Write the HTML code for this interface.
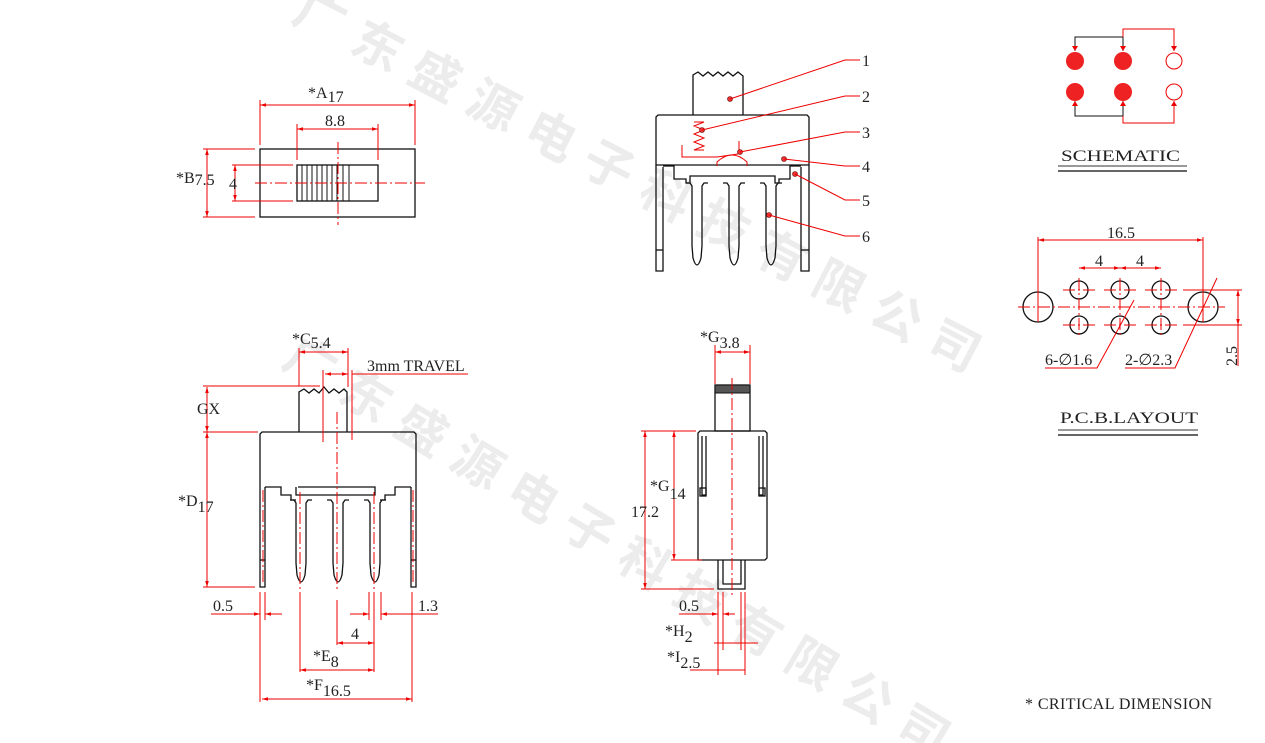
<!DOCTYPE html>
<html><head><meta charset="utf-8"><style>
body{margin:0;background:#fff;width:1265px;height:743px;overflow:hidden}
svg{display:block}
text{font-family:"Liberation Serif",serif;font-size:16px;fill:#222}
.r{stroke:#e00;stroke-width:1;fill:none}
.k{stroke:#111;stroke-width:1.3;fill:none}
.c{stroke:#e00;stroke-width:1;fill:none;stroke-dasharray:12 3 2 3}
.wm{font-family:"Noto Sans CJK SC",sans-serif;font-size:50px;fill:#ececec;font-weight:bold}
</style></head><body>
<svg width="1265" height="743" viewBox="0 0 1265 743" xmlns="http://www.w3.org/2000/svg">
<defs>
<marker id="a" viewBox="0 0 10 10" refX="10" refY="5" markerWidth="8" markerHeight="6" orient="auto-start-reverse"><path d="M0,2 L10,5 L0,8z" fill="#e00"/></marker>
</defs>
<!-- watermark -->
<g transform="translate(290,20) rotate(27.5)"><text class="wm" letter-spacing="15">广东盛源电子科技有限公司</text></g>
<g transform="translate(280,365) rotate(31)"><text class="wm" letter-spacing="15">广东盛源电子科技有限公司</text></g>

<!-- TOP LEFT VIEW -->
<rect x="260" y="149" width="155" height="68" class="k"/>
<rect x="297" y="165" width="81" height="36" class="k"/>
<g stroke="#111" stroke-width="1">
<line x1="302" y1="165" x2="302" y2="201"/><line x1="307" y1="165" x2="307" y2="201"/><line x1="312" y1="165" x2="312" y2="201"/><line x1="317" y1="165" x2="317" y2="201"/><line x1="322" y1="165" x2="322" y2="201"/><line x1="327" y1="165" x2="327" y2="201"/><line x1="332" y1="165" x2="332" y2="201"/><line x1="337" y1="165" x2="337" y2="201"/><line x1="343" y1="165" x2="343" y2="201"/><line x1="349" y1="165" x2="349" y2="201"/>
</g>
<line x1="255" y1="183" x2="425" y2="183" class="c"/>
<line x1="338" y1="142" x2="338" y2="225" class="c"/>
<line x1="260" y1="100" x2="260" y2="145" class="r"/><line x1="415" y1="100" x2="415" y2="145" class="r"/>
<line x1="260" y1="105" x2="415" y2="105" class="r" marker-start="url(#a)" marker-end="url(#a)"/>
<text x="308" y="98">*A<tspan dy="4">17</tspan></text>
<line x1="297" y1="124" x2="297" y2="160" class="r"/><line x1="378" y1="124" x2="378" y2="160" class="r"/>
<line x1="297" y1="129" x2="378" y2="129" class="r" marker-start="url(#a)" marker-end="url(#a)"/>
<text x="325" y="126">8.8</text>
<line x1="203" y1="149" x2="255" y2="149" class="r"/><line x1="203" y1="217" x2="255" y2="217" class="r"/>
<line x1="207" y1="149" x2="207" y2="217" class="r" marker-start="url(#a)" marker-end="url(#a)"/>
<text x="176" y="183">*B<tspan dy="2">7.5</tspan></text>
<line x1="232" y1="165" x2="293" y2="165" class="r"/><line x1="232" y1="201" x2="293" y2="201" class="r"/>
<line x1="235" y1="165" x2="235" y2="201" class="r" marker-start="url(#a)" marker-end="url(#a)"/>
<text x="229" y="189">4</text>

<!-- TOP MIDDLE VIEW -->
<path d="M693,115 V75 l5,-3 5,4 5,-4 5,4 5,-4 5,4 5,-4 5,4 5,-4 5,4 V115" class="k"/>
<path d="M656,165 V117 l2,-2 H807 l2,2 V165 Z" class="k"/>
<path d="M656,165 V271 H663 V167 M809,165 V271 H801 V167" class="k"/>
<line x1="656" y1="250" x2="663" y2="250" class="k"/><line x1="801" y1="250" x2="809" y2="250" class="k"/>
<path d="M663,166 H674 V179 H686 V183 H690 V176 H775 V183 H779 V179 H790 V166 H801" class="k"/>
<path d="M686,183 h4 l2,3 v60 l1,12 q4,14 8,0 l1,-12 v-60 l2,-3 h4" class="k"/>
<path d="M723,183 h4 l2,3 v60 l1,12 q4,14 8,0 l1,-12 v-60 l2,-3 h4" class="k"/>
<path d="M760,183 h4 l2,3 v60 l1,12 q4,14 8,0 l1,-12 v-60 l2,-3 h4" class="k"/>
<path d="M694,122 h10 l-10,4 10,4 -10,4 10,4 -10,4 10,4 -10,4 h10" class="r" stroke-width="1.4"/>
<path d="M682,145 v12 h35 l21,-3 M739,141 v13" class="r" stroke-width="1.3"/>
<path d="M717,166 v-4 q15,-14 30,0 v4" class="r" stroke-width="1.3"/>
<g fill="#e33" stroke="#600" stroke-width="0.6">
<circle cx="730" cy="99" r="2.5"/><circle cx="702" cy="130" r="2.5"/><circle cx="740" cy="152" r="2.5"/><circle cx="784" cy="159" r="2.5"/><circle cx="795" cy="174" r="2.5"/><circle cx="769" cy="215" r="2.5"/></g>
<path d="M730,99 L845,60 H860 M702,130 L845,96 H860 M740,152 L845,132 H860 M784,159 L845,166 H860 M795,174 L845,200 H860 M769,215 L845,236 H860" class="r"/>
<text x="862" y="66" font-size="19">1</text><text x="862" y="102" font-size="19">2</text><text x="862" y="138" font-size="19">3</text><text x="862" y="172" font-size="19">4</text><text x="862" y="206" font-size="19">5</text><text x="862" y="242" font-size="19">6</text>

<!-- BOTTOM LEFT VIEW -->
<path d="M299,432 V392 l5,-3 5,4 5,-4 5,4 5,-6 5,6 5,-4 5,4 5,-4 3,3 V432" class="k"/>
<path d="M260,487 V434 l2,-2 H414 l2,2 V487" class="k"/>
<path d="M260,487 V587 H265 V487 M416,487 V587 H411 V487" class="k"/>
<line x1="260" y1="560" x2="265" y2="560" class="k"/><line x1="411" y1="560" x2="416" y2="560" class="k"/>
<path d="M265,487 H281 V495 H291 V500 H296 M296,487 V495 H375 V487 H298 M380,500 H385 V495 H395 V487 H411" class="k"/>
<path d="M290,500 h4 l2,3 v60 l1,12 q4,14 8,0 l1,-12 v-60 l2,-3 h4" class="k"/>
<path d="M327,500 h4 l2,3 v60 l1,12 q4,14 8,0 l1,-12 v-60 l2,-3 h4" class="k"/>
<path d="M364,500 h4 l2,3 v60 l1,12 q4,14 8,0 l1,-12 v-60 l2,-3 h4" class="k"/>
<line x1="337" y1="412" x2="337" y2="590" class="c"/>
<line x1="300" y1="492" x2="300" y2="590" class="c"/><line x1="374" y1="492" x2="374" y2="590" class="c"/>
<line x1="263" y1="490" x2="263" y2="585" class="c" stroke="#fff"/>
<line x1="413" y1="490" x2="413" y2="585" class="c" stroke="#fff"/>
<line x1="299" y1="348" x2="299" y2="386" class="r"/><line x1="348" y1="348" x2="348" y2="387" class="r"/>
<line x1="299" y1="352" x2="348" y2="352" class="r" marker-start="url(#a)" marker-end="url(#a)"/>
<text x="292" y="344">*C<tspan dy="4">5.4</tspan></text>
<line x1="323" y1="370" x2="323" y2="442" class="r"/><line x1="352" y1="370" x2="352" y2="440" class="r"/>
<line x1="325" y1="374" x2="348" y2="374" class="r" marker-start="url(#a)" marker-end="url(#a)"/>
<line x1="352" y1="374" x2="468" y2="374" class="r"/>
<text x="367" y="371" font-size="15">3mm TRAVEL</text>
<line x1="203" y1="386" x2="320" y2="386" class="r"/><line x1="203" y1="432" x2="258" y2="432" class="r"/><line x1="203" y1="587" x2="255" y2="587" class="r"/>
<line x1="207" y1="387" x2="207" y2="432" class="r" marker-start="url(#a)" marker-end="url(#a)"/>
<line x1="207" y1="432" x2="207" y2="587" class="r" marker-start="url(#a)" marker-end="url(#a)"/>
<text x="197" y="414" font-size="13">GX</text>
<text x="178" y="506">*D<tspan dy="6">17</tspan></text>
<line x1="260" y1="592" x2="260" y2="702" class="r"/><line x1="265" y1="592" x2="265" y2="620" class="r"/>
<line x1="300" y1="592" x2="300" y2="672" class="r"/><line x1="337" y1="600" x2="337" y2="645" class="r"/>
<line x1="374" y1="592" x2="374" y2="672" class="r"/><line x1="369" y1="592" x2="369" y2="620" class="r"/><line x1="381" y1="592" x2="381" y2="620" class="r"/>
<line x1="412" y1="592" x2="412" y2="702" class="r"/>
<line x1="211" y1="614" x2="260" y2="614" class="r" marker-end="url(#a)"/><line x1="282" y1="614" x2="265" y2="614" class="r" marker-end="url(#a)"/>
<text x="213" y="611">0.5</text>
<line x1="350" y1="614" x2="369" y2="614" class="r" marker-end="url(#a)"/><line x1="438" y1="614" x2="381" y2="614" class="r" marker-end="url(#a)"/>
<text x="418" y="611">1.3</text>
<line x1="337" y1="643" x2="374" y2="643" class="r" marker-start="url(#a)" marker-end="url(#a)"/>
<text x="351" y="639">4</text>
<line x1="300" y1="670" x2="374" y2="670" class="r" marker-start="url(#a)" marker-end="url(#a)"/>
<text x="313" y="661">*E<tspan dy="6">8</tspan></text>
<line x1="262" y1="699" x2="412" y2="699" class="r" marker-start="url(#a)" marker-end="url(#a)"/>
<text x="306" y="690">*F<tspan dy="6">16.5</tspan></text>

<!-- BOTTOM MIDDLE VIEW -->
<rect x="715" y="385" width="35" height="46" class="k"/>
<rect x="715" y="385" width="35" height="8" fill="#555" stroke="#111"/>
<path d="M698,560 V433 l2,-2 H765 l2,2 V558 l-2,2 H700 Z" class="k"/>
<path d="M702,436 V495 H706 V436 M763,436 V495 H759 V436" class="k"/>
<rect x="700" y="488" width="6" height="8" class="k" stroke-width="1"/><rect x="759" y="488" width="6" height="8" class="k" stroke-width="1"/>
<path d="M718,560 V589 H745 V560 M723,560 V584 H741 V560" class="k"/>
<line x1="732" y1="378" x2="732" y2="597" class="c"/>
<line x1="715" y1="345" x2="715" y2="384" class="r"/><line x1="750" y1="345" x2="750" y2="384" class="r"/>
<line x1="715" y1="352" x2="750" y2="352" class="r" marker-start="url(#a)" marker-end="url(#a)"/>
<text x="700" y="342">*G<tspan dy="6">3.8</tspan></text>
<line x1="641" y1="431" x2="696" y2="431" class="r"/><line x1="671" y1="560" x2="702" y2="560" class="r"/><line x1="641" y1="589" x2="714" y2="589" class="r"/>
<line x1="645" y1="431" x2="645" y2="589" class="r" marker-start="url(#a)" marker-end="url(#a)"/>
<line x1="674" y1="431" x2="674" y2="560" class="r" marker-start="url(#a)" marker-end="url(#a)"/>
<text x="631" y="517">17.2</text>
<text x="650" y="491">*G<tspan dy="8">14</tspan></text>
<line x1="718" y1="592" x2="718" y2="675" class="r"/><line x1="723" y1="592" x2="723" y2="650" class="r"/>
<line x1="741" y1="592" x2="741" y2="650" class="r"/><line x1="745" y1="592" x2="745" y2="675" class="r"/>
<line x1="679" y1="614" x2="718" y2="614" class="r" marker-end="url(#a)"/><line x1="735" y1="614" x2="723" y2="614" class="r" marker-end="url(#a)"/>
<text x="679" y="611">0.5</text>
<line x1="714" y1="643" x2="758" y2="643" class="r"/>
<text x="665" y="636">*H<tspan dy="6">2</tspan></text>
<line x1="690" y1="670" x2="745" y2="670" class="r"/>
<text x="667" y="662">*I<tspan dy="6">2.5</tspan></text>

<!-- SCHEMATIC -->
<path d="M1075,51 V37 H1123 V51" stroke="#111" fill="none"/>
<path d="M1123,37 V29 H1174 V51" class="r"/>
<path d="M1075,101 V116 H1123 V101" stroke="#111" fill="none"/>
<path d="M1123,116 V123 H1174 V101" class="r"/>
<path d="M1072,46 l3,5 3,-5z M1120,46 l3,5 3,-5z M1171,46 l3,5 3,-5z M1072,106 l3,-5 3,5z M1120,106 l3,-5 3,5z M1171,106 l3,-5 3,5z" fill="#e00"/>
<g fill="#e22"><circle cx="1075" cy="61" r="9"/><circle cx="1123" cy="61" r="9"/><circle cx="1075" cy="92" r="9"/><circle cx="1123" cy="92" r="9"/></g>
<circle cx="1174" cy="61" r="8" class="r"/><circle cx="1174" cy="92" r="8" class="r"/>
<text x="1061" y="161" font-size="21" textLength="119" lengthAdjust="spacingAndGlyphs">SCHEMATIC</text>
<line x1="1058" y1="166" x2="1187" y2="166" stroke="#333"/><line x1="1058" y1="171" x2="1187" y2="171" stroke="#333" stroke-width="1.5"/>

<!-- PCB LAYOUT -->
<g class="k" stroke-width="1.3">
<circle cx="1038" cy="307" r="15"/><circle cx="1203" cy="307" r="15"/>
<circle cx="1079" cy="290" r="9"/><circle cx="1120" cy="290" r="9"/><circle cx="1161" cy="290" r="9"/>
<circle cx="1079" cy="325" r="9"/><circle cx="1120" cy="325" r="9"/><circle cx="1161" cy="325" r="9"/></g>
<line x1="1018" y1="307" x2="1225" y2="307" class="c"/>
<g class="c"><line x1="1063" y1="290" x2="1095" y2="290"/><line x1="1104" y1="290" x2="1136" y2="290"/><line x1="1145" y1="290" x2="1177" y2="290"/>
<line x1="1063" y1="325" x2="1095" y2="325"/><line x1="1104" y1="325" x2="1136" y2="325"/><line x1="1145" y1="325" x2="1177" y2="325"/>
<line x1="1079" y1="278" x2="1079" y2="337"/><line x1="1120" y1="278" x2="1120" y2="337"/><line x1="1161" y1="278" x2="1161" y2="337"/></g>
<line x1="1038" y1="237" x2="1038" y2="322" class="r"/><line x1="1203" y1="237" x2="1203" y2="322" class="r"/>
<line x1="1038" y1="240" x2="1203" y2="240" class="r" marker-start="url(#a)" marker-end="url(#a)"/>
<text x="1107" y="238">16.5</text>
<line x1="1079" y1="268" x2="1120" y2="268" class="r" marker-start="url(#a)" marker-end="url(#a)"/>
<line x1="1120" y1="268" x2="1161" y2="268" class="r" marker-start="url(#a)" marker-end="url(#a)"/>
<text x="1095" y="266">4</text><text x="1136" y="266">4</text>
<line x1="1183" y1="290" x2="1242" y2="290" class="r"/><line x1="1183" y1="325" x2="1242" y2="325" class="r"/>
<line x1="1238" y1="290" x2="1238" y2="325" class="r" marker-start="url(#a)" marker-end="url(#a)"/>
<line x1="1238" y1="325" x2="1238" y2="366" class="r"/>
<text x="0" y="0" transform="translate(1237,366) rotate(-90)">2.5</text>
<path d="M1045,368 H1097 L1134,300 M1125,368 H1175 L1217,278" class="r"/>
<text x="1045" y="365">6-∅1.6</text><text x="1125" y="365">2-∅2.3</text>
<text x="1060" y="423" font-size="21" textLength="138" lengthAdjust="spacingAndGlyphs">P.C.B.LAYOUT</text>
<line x1="1058" y1="430" x2="1198" y2="430" stroke="#333"/><line x1="1058" y1="435" x2="1198" y2="435" stroke="#333" stroke-width="1.5"/>

<text x="1025" y="709" font-size="15" textLength="187" lengthAdjust="spacing">* CRITICAL  DIMENSION</text>
</svg>
</body></html>
